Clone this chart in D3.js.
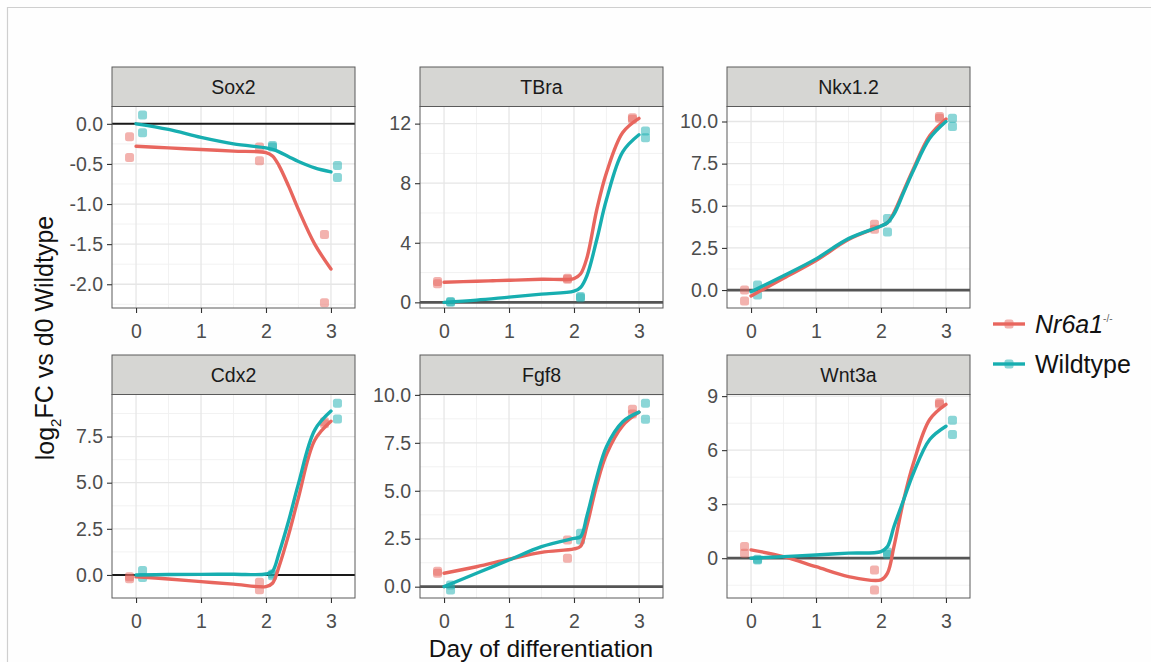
<!DOCTYPE html>
<html><head><meta charset="utf-8">
<script src="https://cdn.jsdelivr.net/npm/d3@7"></script>
<style>
body{margin:0;background:#fff;}
svg{display:block;font-family:"Liberation Sans",Arial,Helvetica,sans-serif;}
</style>
</head><body>
<svg id="chart" width="1151" height="662"></svg>
<script>
// ---------------- DATA ----------------
const genes = ["Sox2", "TBra", "Nkx1.2", "Cdx2", "Fgf8", "Wnt3a"];
const genotypes = ["Nr6a1", "Wildtype"];
const xTickValues = [0, 1, 2, 3];
const pointDays = [0, 0, 2, 2, 3, 3];
const curveDays = [0, 0.5, 1, 1.5, 2, 2.1, 2.2, 2.35, 2.5, 2.75, 3];

// replicate measurements (log2FC) per gene, order follows pointDays
const sox2Mut  = [-0.16, -0.42, -0.29, -0.46, -1.38, -2.23];
const sox2Wt   = [0.11, -0.11, -0.27, -0.29, -0.52, -0.67];
const tbraMut  = [1.25, 1.40, 1.55, 1.62, 12.30, 12.40];
const tbraWt   = [0.00, 0.05, 0.30, 0.40, 11.05, 11.50];
const nkxMut   = [0.00, -0.65, 3.90, 3.60, 10.30, 10.20];
const nkxWt    = [0.30, -0.30, 4.25, 3.45, 10.20, 9.70];
const cdx2Mut  = [-0.10, -0.20, -0.40, -0.80, 8.30, 8.20];
const cdx2Wt   = [0.24, -0.14, 0.05, -0.05, 9.30, 8.45];
const fgf8Mut  = [0.70, 0.80, 2.44, 1.48, 9.25, 9.00];
const fgf8Wt   = [0.09, -0.17, 2.78, 2.44, 9.56, 8.73];
const wnt3aMut = [0.65, 0.28, -0.65, -1.76, 8.63, 8.55];
const wnt3aWt  = [-0.06, -0.10, 0.35, 0.20, 7.66, 6.87];

// smoothed trend values read at curveDays
const sox2MutFit  = [-0.28, -0.30, -0.32, -0.34, -0.36, -0.40, -0.52, -0.78, -1.07, -1.50, -1.81];
const sox2WtFit   = [0.00, -0.07, -0.17, -0.25, -0.30, -0.32, -0.35, -0.41, -0.47, -0.55, -0.60];
const tbraMutFit  = [1.35, 1.42, 1.48, 1.55, 1.60, 1.90, 3.00, 6.20, 8.70, 11.40, 12.35];
const tbraWtFit   = [0.00, 0.15, 0.35, 0.55, 0.75, 1.00, 1.80, 4.20, 6.90, 10.10, 11.25];
const nkxMutFit   = [-0.35, 0.70, 1.75, 3.00, 3.80, 4.00, 4.60, 5.90, 7.20, 9.15, 10.15];
const nkxWtFit    = [-0.10, 0.85, 1.85, 3.05, 3.80, 4.00, 4.50, 5.80, 7.10, 9.00, 10.00];
const cdx2MutFit  = [-0.10, -0.22, -0.36, -0.50, -0.63, -0.45, 0.45, 2.20, 4.20, 7.30, 8.33];
const cdx2WtFit   = [0.00, 0.02, 0.03, 0.04, 0.05, 0.20, 1.18, 2.95, 4.95, 7.85, 8.88];
const fgf8MutFit  = [0.70, 1.04, 1.43, 1.79, 1.97, 2.10, 3.20, 5.30, 6.90, 8.40, 9.10];
const fgf8WtFit   = [0.00, 0.70, 1.39, 2.09, 2.52, 2.60, 3.70, 5.70, 7.30, 8.60, 9.10];
const wnt3aMutFit = [0.46, 0.09, -0.47, -1.02, -1.20, -0.83, 0.65, 3.25, 5.29, 7.70, 8.54];
const wnt3aWtFit  = [0.00, 0.09, 0.18, 0.28, 0.37, 0.65, 1.76, 3.25, 4.73, 6.59, 7.33];

// y tick labels per panel
const sox2Ticks  = ["-2.0", "-1.5", "-1.0", "-0.5", "0.0"];
const tbraTicks  = ["0", "4", "8", "12"];
const nkxTicks   = ["0.0", "2.5", "5.0", "7.5", "10.0"];
const cdx2Ticks  = ["0.0", "2.5", "5.0", "7.5"];
const fgf8Ticks  = ["0.0", "2.5", "5.0", "7.5", "10.0"];
const wnt3aTicks = ["0", "3", "6", "9"];

// ---------------- LAYOUT / STYLE ----------------
const panelData = {
  "Sox2":   {mut: sox2Mut,  wt: sox2Wt,  mutFit: sox2MutFit,  wtFit: sox2WtFit,  ticks: sox2Ticks,  ydom: [-2.296, 0.216]},
  "TBra":   {mut: tbraMut,  wt: tbraWt,  mutFit: tbraMutFit,  wtFit: tbraWtFit,  ticks: tbraTicks,  ydom: [-0.38, 13.15]},
  "Nkx1.2": {mut: nkxMut,   wt: nkxWt,   mutFit: nkxMutFit,   wtFit: nkxWtFit,   ticks: nkxTicks,   ydom: [-1.065, 10.89]},
  "Cdx2":   {mut: cdx2Mut,  wt: cdx2Wt,  mutFit: cdx2MutFit,  wtFit: cdx2WtFit,  ticks: cdx2Ticks,  ydom: [-1.25, 9.78]},
  "Fgf8":   {mut: fgf8Mut,  wt: fgf8Wt,  mutFit: fgf8MutFit,  wtFit: fgf8WtFit,  ticks: fgf8Ticks,  ydom: [-0.59, 10.02]},
  "Wnt3a":  {mut: wnt3aMut, wt: wnt3aWt, mutFit: wnt3aMutFit, wtFit: wnt3aWtFit, ticks: wnt3aTicks, ydom: [-2.21, 9.09]}
};
const colLeft = [112, 420, 727];
const panelW = 243;
const stripTop = [67, 355];
const stripH = 39.5;
const panelBottom = [308, 598];
const colors = {Nr6a1: "#E8665E", Wildtype: "#17AEB0"};
const dodge = {Nr6a1: -0.1, Wildtype: 0.1};

const svg = d3.select("#chart");
svg.append("rect").attr("width", 1151).attr("height", 662).attr("fill", "#fefefe");
svg.append("line").attr("x1", 7).attr("x2", 1151).attr("y1", 7.5).attr("y2", 7.5).attr("stroke", "#cfcfcf").attr("stroke-width", 1.2);
svg.append("line").attr("x1", 7.5).attr("x2", 7.5).attr("y1", 7).attr("y2", 662).attr("stroke", "#cfcfcf").attr("stroke-width", 1.2);

const x = d3.scaleLinear().domain([-0.37, 3.37]).range([0, panelW]);

genes.forEach((g, i) => {
  const row = Math.floor(i / 3), col = i % 3;
  const d = panelData[g];
  const top = stripTop[row] + stripH;
  const h = panelBottom[row] - top;
  const y = d3.scaleLinear().domain(d.ydom).range([h, 0]);
  const tickVals = d.ticks.map(Number);
  const step = tickVals[1] - tickVals[0];

  const gP = svg.append("g").attr("transform", `translate(${colLeft[col]},${top})`);
  gP.append("rect").attr("width", panelW).attr("height", h).attr("fill", "#fff");

  // minor grid
  const minorY = [];
  for (let k = -1; k < tickVals.length; k++) {
    const v = tickVals[0] + (k + 0.5) * step;
    if (v > d.ydom[0] && v < d.ydom[1]) minorY.push(v);
  }
  const minorX = [0.5, 1.5, 2.5];
  gP.selectAll(".mny").data(minorY).enter().append("line")
    .attr("x1", 0).attr("x2", panelW).attr("y1", v => y(v)).attr("y2", v => y(v))
    .attr("stroke", "#f1f1f1").attr("stroke-width", 0.9);
  gP.selectAll(".mnx").data(minorX).enter().append("line")
    .attr("y1", 0).attr("y2", h).attr("x1", v => x(v)).attr("x2", v => x(v))
    .attr("stroke", "#f1f1f1").attr("stroke-width", 0.9);
  // major grid
  gP.selectAll(".mjy").data(tickVals).enter().append("line")
    .attr("x1", 0).attr("x2", panelW).attr("y1", v => y(v)).attr("y2", v => y(v))
    .attr("stroke", "#e6e6e6").attr("stroke-width", 1.3);
  gP.selectAll(".mjx").data(xTickValues).enter().append("line")
    .attr("y1", 0).attr("y2", h).attr("x1", v => x(v)).attr("x2", v => x(v))
    .attr("stroke", "#e6e6e6").attr("stroke-width", 1.3);

  // zero line
  gP.append("line").attr("x1", 0).attr("x2", panelW).attr("y1", y(0)).attr("y2", y(0))
    .attr("stroke", col === 0 ? "#1a1a1a" : "#555").attr("stroke-width", col === 0 ? 2 : 2.8);

  // points
  genotypes.forEach(gt => {
    const vals = gt === "Nr6a1" ? d.mut : d.wt;
    gP.selectAll(".pt-" + gt).data(vals.map((v, k) => [pointDays[k], v])).enter().append("rect")
      .attr("x", p => x(p[0] + dodge[gt]) - 4.5).attr("y", p => y(p[1]) - 4.5)
      .attr("width", 9).attr("height", 9).attr("rx", 2.5)
      .attr("fill", colors[gt]).attr("fill-opacity", 0.5);
  });
  // smooth lines
  const line = d3.line().x(p => x(p[0])).y(p => y(p[1])).curve(d3.curveCatmullRom.alpha(0.5));
  genotypes.forEach(gt => {
    const vals = gt === "Nr6a1" ? d.mutFit : d.wtFit;
    gP.append("path").datum(vals.map((v, k) => [curveDays[k], v]))
      .attr("d", line).attr("fill", "none").attr("stroke", colors[gt])
      .attr("stroke-width", 3.4).attr("stroke-linecap", "round");
  });

  // border
  gP.append("rect").attr("width", panelW).attr("height", h).attr("fill", "none")
    .attr("stroke", "#5a5a5a").attr("stroke-width", 1);

  // strip
  const gS = svg.append("g").attr("transform", `translate(${colLeft[col]},${stripTop[row]})`);
  gS.append("rect").attr("width", panelW).attr("height", stripH).attr("fill", "#d6d6d3")
    .attr("stroke", "#5a5a5a").attr("stroke-width", 1);
  gS.append("text").attr("x", panelW / 2).attr("y", stripH / 2).attr("dy", "0.36em")
    .attr("text-anchor", "middle").attr("font-size", 19.5).attr("fill", "#1a1a1a").text(g);

  // axes
  const ax = gP.append("g").attr("transform", `translate(0,${h})`)
    .call(d3.axisBottom(x).tickValues(xTickValues).tickFormat(d3.format("d")).tickSize(5).tickPadding(11));
  const ay = gP.append("g")
    .call(d3.axisLeft(y).tickValues(tickVals).tickFormat((v, k) => d.ticks[k]).tickSize(5).tickPadding(4));
  [ax, ay].forEach(a => {
    a.select(".domain").remove();
    a.selectAll(".tick line").attr("stroke", "#333").attr("stroke-width", 1.1);
    a.selectAll(".tick text").attr("fill", "#4d4d4d").attr("font-size", 19.5)
      .attr("font-family", "'Liberation Sans', Arial, sans-serif");
  });
});

// axis titles
svg.append("text").attr("x", 541).attr("y", 648).attr("dy", "0.36em").attr("text-anchor", "middle")
  .attr("font-size", 24.5).attr("fill", "#111").text("Day of differentiation");
const yt = svg.append("text").attr("transform", "translate(45,338) rotate(-90)")
  .attr("text-anchor", "middle").attr("dy", "0.36em").attr("font-size", 25).attr("fill", "#111");
yt.append("tspan").text("log");
yt.append("tspan").attr("font-size", 15).attr("dy", "0.45em").text("2");
yt.append("tspan").attr("dy", "-0.3em").text("FC vs d0 Wildtype");

// legend
const legY = [324, 364];
genotypes.forEach((gt, k) => {
  const gL = svg.append("g").attr("transform", `translate(993,${legY[k]})`);
  gL.append("line").attr("x1", 0).attr("x2", 32).attr("stroke", colors[gt]).attr("stroke-width", 3.4);
  gL.append("rect").attr("x", 16 - 4.5).attr("y", -4.5).attr("width", 9).attr("height", 9).attr("rx", 2.5)
    .attr("fill", colors[gt]).attr("fill-opacity", 0.5);
  const t = gL.append("text").attr("x", 42).attr("dy", "0.36em").attr("font-size", 25).attr("fill", "#111");
  if (gt === "Nr6a1") {
    t.append("tspan").attr("font-style", "italic").text("Nr6a1");
    t.append("tspan").attr("font-size", 10).attr("dy", "-1.1em").attr("fill", "#666").text("-/-");
  } else {
    t.text("Wildtype");
  }
});
</script>
</body></html>
